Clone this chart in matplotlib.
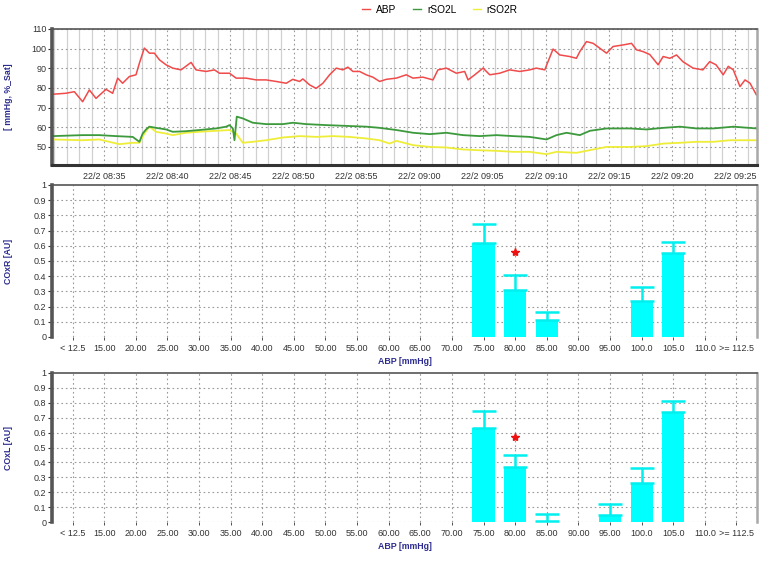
import numpy as np
import matplotlib
matplotlib.use('Agg')
import matplotlib.pyplot as plt
from matplotlib.lines import Line2D

plt.rcParams['font.family'] = ['Liberation Sans', 'DejaVu Sans']

# ---- time series (minutes after 22/2 08:30) ----
abp_t = [0.90, 1.95, 2.62, 3.28, 3.81, 4.34, 5.13, 5.66, 6.06, 6.45, 6.98, 7.51, 7.78, 8.17,
         8.57, 8.97, 9.37, 9.89, 10.42, 11.08, 11.88, 12.27, 13.07, 13.73, 14.13, 14.92,
         15.45, 16.24, 17.04, 17.83, 18.63, 19.42, 19.95, 20.48, 20.74, 21.27, 21.79, 22.33,
         22.86, 23.39, 23.91, 24.31, 24.71, 25.24, 25.76, 26.29, 26.83, 27.36, 28.15, 28.94,
         29.47, 30.26, 31.06, 31.45, 32.12, 32.91, 33.57, 33.84, 34.37, 35.03, 35.56, 36.35,
         37.14, 37.94, 38.73, 39.25, 39.92, 40.18, 40.58, 41.11, 41.90, 42.43, 42.70, 43.23,
         43.76, 44.29, 44.82, 45.34, 46.14, 46.80, 47.20, 47.72, 48.25, 48.91, 49.31, 49.84,
         50.37, 50.87, 51.68, 52.46, 53.00, 53.50, 54.07, 54.47, 54.87, 55.40, 55.80, 56.20,
         56.70]
abp_v = [76.8, 77.3, 78.1, 73.0, 79.0, 74.7, 79.3, 77.3, 85.0, 82.4, 85.8, 86.7, 92.6, 100.3,
         97.7, 97.7, 94.3, 91.8, 90.1, 89.2, 93.0, 89.2, 88.4, 89.2, 87.5, 87.5,
         85.0, 85.0, 84.1, 84.1, 83.3, 82.4, 84.4, 83.3, 84.6, 81.6, 79.8, 82.4,
         86.7, 90.1, 89.2, 90.6, 88.4, 88.4, 86.7, 85.5, 83.3, 84.4, 85.0, 86.7,
         85.0, 85.5, 84.1, 89.2, 90.1, 87.5, 88.4, 84.1, 86.7, 90.1, 86.7, 87.5,
         89.2, 88.4, 89.2, 90.1, 89.2, 93.4, 99.8, 96.8, 96.0, 95.1, 98.5, 103.6,
         102.7, 100.2, 97.7, 101.1, 101.9, 102.7, 99.4, 98.5, 97.0, 91.8, 96.0, 95.1,
         96.8, 93.4, 90.1, 89.2, 93.4, 91.8, 86.7, 91.0, 89.2, 80.7, 84.1, 82.4,
         76.5]

rso2l_t = [0.90, 3.28, 4.60, 5.93, 7.25, 7.78, 8.04, 8.31, 8.57, 9.10, 9.89, 10.42, 11.48,
           12.54, 13.86, 14.66, 14.92, 15.19, 15.32, 15.50, 15.98, 16.77, 17.83, 19.15,
           19.95, 21.01, 22.59, 24.18, 25.77, 26.83, 28.15, 29.48, 30.80, 32.12, 33.44,
           34.77, 36.09, 37.41, 38.73, 40.06, 40.85, 41.65, 42.70, 43.50, 44.82, 46.67,
           47.99, 49.32, 50.64, 51.96, 53.29, 54.87, 56.72]
rso2l_v = [55.5, 56.0, 56.0, 55.5, 55.1, 52.6, 56.8, 58.9, 60.3, 59.7, 58.9, 57.7, 58.0,
           58.6, 59.4, 60.3, 61.1, 59.4, 53.4, 65.4, 64.5, 62.3, 61.6, 61.6,
           62.3, 61.6, 61.1, 60.7, 60.3, 59.7, 58.6, 57.2, 56.5, 57.2, 56.0,
           55.5, 56.0, 55.5, 55.1, 53.8, 56.0, 57.2, 56.0, 58.2, 59.4, 59.4,
           58.9, 59.7, 60.3, 59.4, 59.4, 60.3, 59.4]

rso2r_t = [0.90, 3.28, 4.60, 6.19, 7.25, 7.78, 8.17, 8.57, 9.10, 9.89, 10.42, 11.48, 12.54,
           13.86, 14.92, 15.45, 15.98, 16.77, 17.83, 19.15, 20.48, 21.80, 23.12, 24.44,
           25.77, 26.83, 27.62, 28.15, 29.48, 30.80, 32.12, 33.44, 34.77, 36.09, 37.41,
           38.73, 40.06, 40.85, 42.44, 43.76, 44.82, 46.67, 47.99, 49.32, 50.64, 51.96,
           53.29, 54.61, 56.72]
rso2r_v = [53.8, 53.4, 53.8, 51.4, 52.1, 52.1, 56.8, 60.3, 57.7, 56.8, 56.0, 57.2, 57.7,
           58.2, 58.6, 56.8, 52.1, 52.6, 53.4, 54.8, 55.5, 55.1, 55.5, 55.1,
           54.3, 53.4, 51.7, 53.1, 50.9, 50.0, 49.7, 48.7, 48.3, 48.0, 47.5,
           47.5, 46.3, 47.5, 47.0, 48.7, 50.0, 50.0, 50.4, 51.7, 52.1, 52.6,
           52.6, 53.4, 53.4]

time_ticks = [5, 10, 15, 20, 25, 30, 35, 40, 45, 50, 55]
time_labels = ['22/2 08:35', '22/2 08:40', '22/2 08:45', '22/2 08:50', '22/2 08:55',
               '22/2 09:00', '22/2 09:05', '22/2 09:10', '22/2 09:15', '22/2 09:20',
               '22/2 09:25']

# ---- binned indices ----
categories = ['< 12.5', '15.00', '20.00', '25.00', '30.00', '35.00', '40.00', '45.00',
              '50.00', '55.00', '60.00', '65.00', '70.00', '75.00', '80.00', '85.00',
              '90.00', '95.00', '100.0', '105.0', '110.0', '>= 112.5']
nan = np.nan
coxr_vals = [nan] * 13 + [0.62, 0.31, 0.115, nan, nan, 0.24, 0.55, nan, nan]
coxr_err = [nan] * 13 + [0.125, 0.10, 0.05, nan, nan, 0.087, 0.073, nan, nan]
coxr_star_cat = '80.00'
coxr_star_val = 0.557

coxl_vals = [nan] * 13 + [0.633, 0.371, 0.008, nan, 0.047, 0.264, 0.736, nan, nan]
coxl_err = [nan] * 13 + [0.114, 0.081, 0.046, nan, 0.073, 0.096, 0.078, nan, nan]
coxl_star_cat = '80.00'
coxl_star_val = 0.57

NAVY = '#2b2b8f'
TICKC = '#333333'
FS = 6.5

fig = plt.figure(figsize=(7.64, 5.62), dpi=100)

def style_spines(ax, bottom_thick):
    ax.spines['left'].set_linewidth(2.6)
    ax.spines['left'].set_color('#555555')
    ax.spines['top'].set_linewidth(1.2)
    ax.spines['top'].set_color('#555555')
    ax.spines['right'].set_linewidth(1.8)
    ax.spines['right'].set_color('#a8a8a8')
    if bottom_thick:
        ax.spines['bottom'].set_linewidth(2.2)
        ax.spines['bottom'].set_color('#333333')
    else:
        ax.spines['bottom'].set_visible(False)

# ---- top panel ----
ax1 = fig.add_axes([52 / 764, 1 - 165 / 562, 705 / 764, 136 / 562])
ax1.set_xlim(0.85, 56.75)
ax1.set_ylim(40.8, 110)
for m in range(1, 57):
    if m % 5:
        ax1.axvline(m, color='#d0d0d0', lw=0.9, zorder=0)
for m in time_ticks:
    ax1.axvline(m, color='#9a9a9a', lw=0.8, ls=(0, (1.5, 2.5)), zorder=0)
for v in range(50, 111, 10):
    ax1.axhline(v, color='#9a9a9a', lw=0.8, ls=(0, (1.5, 2.5)), zorder=0)
ax1.plot(rso2r_t, rso2r_v, color='#eeee3a', lw=1.3)
ax1.plot(rso2l_t, rso2l_v, color='#3c9a3c', lw=1.3)
ax1.plot(abp_t, abp_v, color='#f04a4a', lw=1.1)
ax1.set_xticks(time_ticks)
ax1.set_xticklabels(time_labels)
ax1.set_yticks(range(50, 111, 10))
ax1.tick_params(axis='x', length=0, pad=5, labelsize=FS, colors=TICKC)
ax1.tick_params(axis='y', length=3, width=0.8, pad=1, labelsize=FS, colors=TICKC)
style_spines(ax1, True)
ax1.set_ylabel('[ mmHg, %_Sat]', color=NAVY, fontsize=6.3, fontweight='bold', labelpad=13)

handles = [Line2D([], [], color='#f04a4a', lw=1), Line2D([], [], color='#3c9a3c', lw=1),
           Line2D([], [], color='#eeee3a', lw=1)]
fig.legend(handles, ['ABP', 'rSO2L', 'rSO2R'], loc='center', bbox_to_anchor=(440 / 764, 1 - 10 / 562),
           ncol=3, frameon=False, fontsize=FS + 0.8, handlelength=0.8, handletextpad=0.6,
           columnspacing=1.6)

# ---- bar panels ----
def bar_panel(rect, vals, errs, star_cat, star_val, ylabel):
    ax = fig.add_axes(rect)
    x = np.arange(len(categories))
    ax.set_xlim(-0.65, len(categories) - 0.35)
    ax.set_ylim(0, 1)
    for xi in x:
        ax.axvline(xi, color='#9a9a9a', lw=0.8, ls=(0, (1.5, 2.5)), zorder=0)
    for v in np.arange(0, 1.0, 0.1):
        ax.axhline(v, color='#9a9a9a', lw=0.8, ls=(0, (1.5, 2.5)), zorder=0)
    v = np.array(vals, dtype=float)
    e = np.array(errs, dtype=float)
    ok = ~np.isnan(v)
    ax.bar(x[ok], v[ok], width=0.7, color='#00ffff', zorder=2)
    ax.errorbar(x[ok], v[ok], yerr=[np.zeros(ok.sum()), e[ok]], fmt='none',
                ecolor='#00f0f0', elinewidth=1.8, capsize=8.6, capthick=1.8, zorder=3)
    ax.plot([categories.index(star_cat)], [star_val], marker='*', color='#ee1111',
            markersize=6, zorder=4, ls='none')
    ax.set_xticks(x)
    ax.set_xticklabels(categories)
    ax.set_yticks(np.round(np.arange(0, 1.01, 0.1), 1))
    ax.set_yticklabels(['0', '0.1', '0.2', '0.3', '0.4', '0.5', '0.6', '0.7', '0.8', '0.9', '1'])
    ax.tick_params(axis='x', length=2, width=0.6, pad=3, labelsize=FS, colors=TICKC)
    ax.tick_params(axis='y', length=3, width=0.8, pad=1, labelsize=FS, colors=TICKC)
    style_spines(ax, False)
    ax.set_ylabel(ylabel, color=NAVY, fontsize=6.3, fontweight='bold', labelpad=15)
    ax.set_xlabel('ABP [mmHg]', color=NAVY, fontsize=6.3, fontweight='bold', labelpad=3)
    return ax

bar_panel([52 / 764, 1 - 337 / 562, 705 / 764, 152 / 562], coxr_vals, coxr_err,
          coxr_star_cat, coxr_star_val, 'COxR [AU]')
bar_panel([52 / 764, 1 - 522 / 562, 705 / 764, 149 / 562], coxl_vals, coxl_err,
          coxl_star_cat, coxl_star_val, 'COxL [AU]')

fig.savefig('out.png', dpi=100)
